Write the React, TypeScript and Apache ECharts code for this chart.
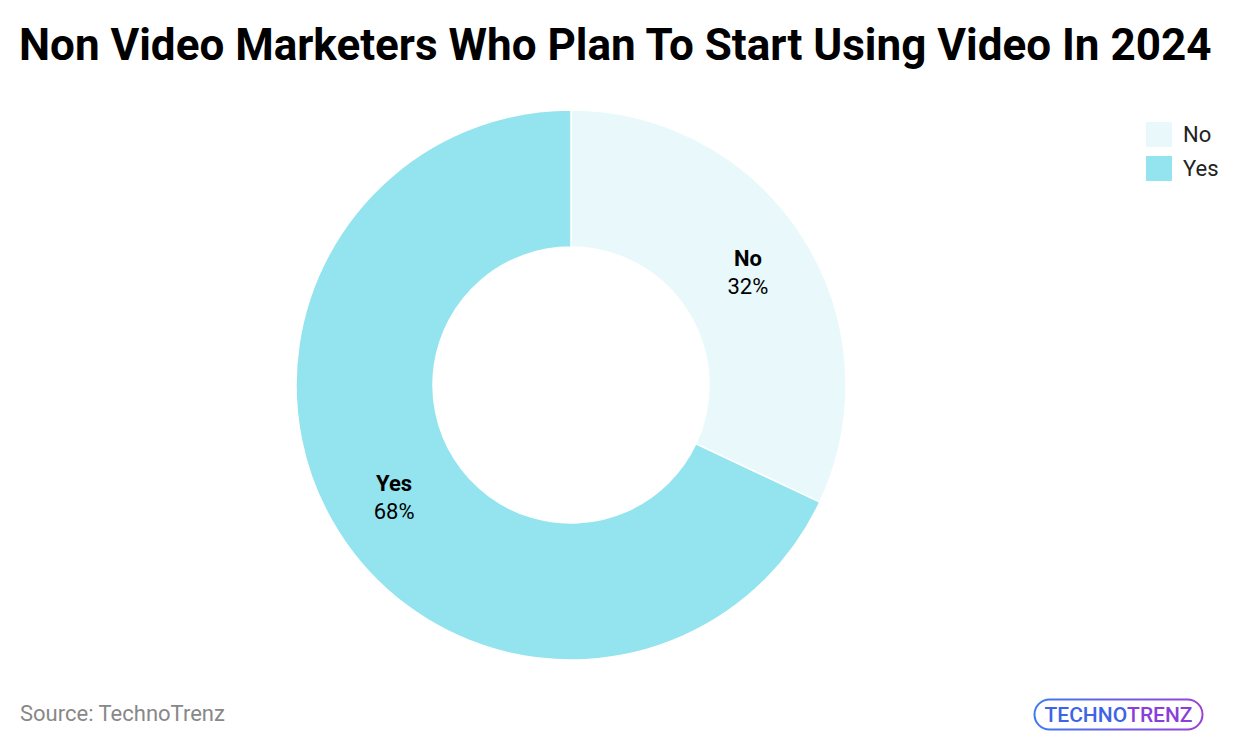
import React, { useEffect, useRef } from "react";
import * as echarts from "echarts";

const categories = ["No", "Yes"];
const values = [32, 68];
const colors = ["#E8F8FB", "#93E4EE"];

export default function App() {
  const ref = useRef<HTMLDivElement>(null);
  useEffect(() => {
    document.body.style.margin = "0";
    const chart = echarts.init(ref.current!, null, { renderer: "svg" });
    chart.setOption({
      animation: false,
      backgroundColor: "#ffffff",
      title: {
        text: "Non Video Marketers Who Plan To Start Using Video In 2024",
        left: 14,
        top: 18,
        textStyle: { fontFamily: "Roboto", fontWeight: "bold", fontSize: 44, color: "#000" },
      },
      legend: {
        orient: "vertical",
        left: 1144,
        top: 120,
        padding: 0,
        itemWidth: 28,
        itemHeight: 27,
        itemGap: 5,
        icon: "rect",
        data: categories,
        textStyle: { fontFamily: "Roboto", fontSize: 22, color: "#222", lineHeight: 27, padding: [0, 0, 0, 5] },
      },
      graphic: [
        {
          type: "text",
          left: 20,
          top: 702,
          style: { text: "Source: TechnoTrenz", fill: "#888", font: "22px Roboto" },
        },
        {
          type: "group",
          left: 1032,
          top: 697,
          children: [
            {
              type: "rect",
              shape: { x: 0, y: 0, width: 168, height: 30, r: 15 },
              style: {
                fill: "none",
                lineWidth: 2,
                stroke: new echarts.graphic.LinearGradient(0, 0, 1, 0, [
                  { offset: 0, color: "#3a7bf0" },
                  { offset: 1, color: "#9b3fd6" },
                ]),
              },
            },
            {
              type: "text",
              x: 84,
              y: 15,
              style: {
                text: "{a|TECHNO}{b|TRENZ}",
                align: "center",
                verticalAlign: "middle",
                rich: {
                  a: { fontFamily: "Roboto", fontSize: 21, fontWeight: 500, fill: "#3d63e6", color: "#3d63e6" },
                  b: { fontFamily: "Roboto", fontSize: 21, fontWeight: 500, fill: "#8a3fd8", color: "#8a3fd8" },
                },
              },
            },
          ],
        },
      ],
      series: [
        {
          type: "pie",
          center: [571, 385],
          radius: [138, 275],
          startAngle: 90,
          clockwise: true,
          label: {
            show: true,
            position: "inside",
            formatter: (p: any) => `{b|${p.name}}\n{v|${p.value}%}`,
            rich: {
              b: { fontFamily: "Roboto", fontWeight: "bold", fontSize: 22, color: "#000", lineHeight: 28 },
              v: { fontFamily: "Roboto", fontSize: 22, color: "#000", lineHeight: 28 },
            },
          },
          labelLine: { show: false },
          itemStyle: { borderColor: "#fff", borderWidth: 1.5 },
          emphasis: { disabled: true },
          data: categories.map((c, i) => ({ name: c, value: values[i], itemStyle: { color: colors[i] } })),
        },
      ],
    });
    return () => chart.dispose();
  }, []);
  return <div ref={ref} style={{ width: 1240, height: 748 }} />;
}
